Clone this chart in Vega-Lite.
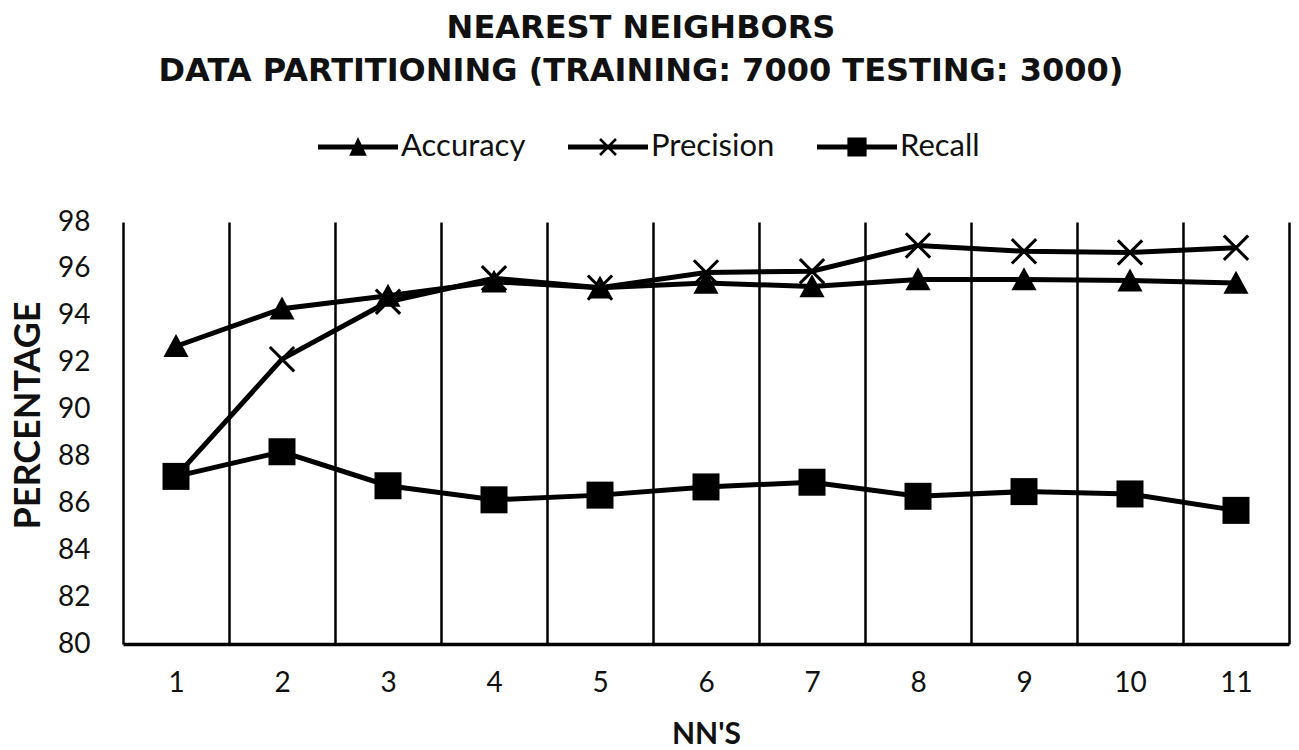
{
  "$schema": "https://vega.github.io/schema/vega-lite/v6.json",
  "autosize": "none",
  "width": 1166,
  "height": 422,
  "padding": {"left": 123, "top": 222, "right": 10, "bottom": 106},
  "background": "white",
  "title": {
    "text": ["NEAREST NEIGHBORS", "DATA PARTITIONING (TRAINING: 7000  TESTING: 3000)"],
    "font": "DejaVu Sans",
    "fontSize": 32,
    "fontWeight": "bold",
    "lineHeight": 43,
    "color": "#111111",
    "anchor": "middle",
    "dx": -65,
    "offset": 19
  },
  "config": {
    "view": {"stroke": null},
    "font": "Lato"
  },
  "data": {
    "values": [
      {"nn": "1", "metric": "Accuracy", "value": 92.7},
      {"nn": "2", "metric": "Accuracy", "value": 94.3},
      {"nn": "3", "metric": "Accuracy", "value": 94.85},
      {"nn": "4", "metric": "Accuracy", "value": 95.45},
      {"nn": "5", "metric": "Accuracy", "value": 95.2},
      {"nn": "6", "metric": "Accuracy", "value": 95.4},
      {"nn": "7", "metric": "Accuracy", "value": 95.25},
      {"nn": "8", "metric": "Accuracy", "value": 95.55},
      {"nn": "9", "metric": "Accuracy", "value": 95.55},
      {"nn": "10", "metric": "Accuracy", "value": 95.5},
      {"nn": "11", "metric": "Accuracy", "value": 95.4},
      {"nn": "1", "metric": "Precision", "value": 87.15},
      {"nn": "2", "metric": "Precision", "value": 92.15},
      {"nn": "3", "metric": "Precision", "value": 94.6},
      {"nn": "4", "metric": "Precision", "value": 95.6},
      {"nn": "5", "metric": "Precision", "value": 95.2},
      {"nn": "6", "metric": "Precision", "value": 95.85},
      {"nn": "7", "metric": "Precision", "value": 95.9},
      {"nn": "8", "metric": "Precision", "value": 97.0},
      {"nn": "9", "metric": "Precision", "value": 96.75},
      {"nn": "10", "metric": "Precision", "value": 96.7},
      {"nn": "11", "metric": "Precision", "value": 96.9},
      {"nn": "1", "metric": "Recall", "value": 87.15},
      {"nn": "2", "metric": "Recall", "value": 88.2},
      {"nn": "3", "metric": "Recall", "value": 86.75},
      {"nn": "4", "metric": "Recall", "value": 86.15},
      {"nn": "5", "metric": "Recall", "value": 86.35},
      {"nn": "6", "metric": "Recall", "value": 86.7},
      {"nn": "7", "metric": "Recall", "value": 86.9},
      {"nn": "8", "metric": "Recall", "value": 86.3},
      {"nn": "9", "metric": "Recall", "value": 86.5},
      {"nn": "10", "metric": "Recall", "value": 86.4},
      {"nn": "11", "metric": "Recall", "value": 85.7}
    ]
  },
  "encoding": {
    "x": {
      "field": "nn",
      "type": "ordinal",
      "sort": ["1","2","3","4","5","6","7","8","9","10","11"],
      "scale": {"paddingInner": 0, "paddingOuter": 0},
      "axis": {
        "title": "NN'S",
        "titleFont": "Lato",
        "titleFontSize": 30,
        "titleFontWeight": "bold",
        "titleColor": "#111111",
        "titlePadding": 22,
        "labelAngle": 0,
        "labelFont": "Lato",
        "labelFontSize": 28,
        "labelColor": "#111111",
        "labelPadding": 25,
        "ticks": false,
        "tickBand": "extent",
        "grid": true,
        "gridColor": "#000000",
        "gridWidth": 2.5,
        "gridOpacity": 1,
        "domain": true,
        "domainColor": "#000000",
        "domainWidth": 3.5
      }
    },
    "y": {
      "field": "value",
      "type": "quantitative",
      "scale": {"domain": [80, 98], "nice": false, "zero": false},
      "axis": {
        "title": "PERCENTAGE",
        "titleFont": "Lato",
        "titleFontSize": 36,
        "titleFontWeight": "bold",
        "titleColor": "#111111",
        "titlePadding": 10,
        "titleY": 193,
        "values": [80, 82, 84, 86, 88, 90, 92, 94, 96, 98],
        "labelFont": "Lato",
        "labelFontSize": 28,
        "labelColor": "#111111",
        "labelPadding": 33,
        "ticks": false,
        "grid": false,
        "domain": false
      }
    }
  },
  "layer": [
    {
      "mark": {"type": "line", "color": "#000000", "strokeWidth": 5},
      "encoding": {"detail": {"field": "metric"}}
    },
    {
      "mark": {"type": "point", "filled": true, "fill": "#000000", "opacity": 1},
      "encoding": {
        "shape": {
          "field": "metric",
          "type": "nominal",
          "scale": {
            "domain": ["Accuracy", "Precision", "Recall"],
            "range": [
              "M-0.93,0.8L0,-0.9L0.93,0.8Z",
              "M-0.98,-0.82L-0.82,-0.98L0.98,0.82L0.82,0.98Z M-0.82,0.98L-0.98,0.82L0.82,-0.98L0.98,-0.82Z",
              "M-1,-1H1V1H-1Z"
            ]
          },
          "legend": null
        },
        "size": {"value": 729}
      }
    },
    {
      "mark": {"type": "point", "filled": true, "fill": "#000000", "opacity": 0},
      "encoding": {
        "shape": {
          "field": "metric",
          "type": "nominal",
          "scale": {
            "domain": ["Accuracy", "Precision", "Recall"],
            "range": [
              "M-1,-0.065H1V0.065H-1Z M-0.22,0.22L0,-0.25L0.22,0.22Z",
              "M-1,-0.065H1V0.065H-1Z M-0.222,-0.178L-0.178,-0.222L0.222,0.178L0.178,0.222Z M-0.178,0.222L-0.222,0.178L0.178,-0.222L0.222,-0.178Z",
              "M-1,-0.065H1V0.065H-1Z M-0.24,-0.24H0.24V0.24H-0.24Z"
            ]
          },
          "legend": {
            "orient": "none",
            "legendX": 195,
            "legendY": -115,
            "direction": "horizontal",
            "title": null,
            "padding": 0,
            "symbolSize": 6400,
            "symbolFillColor": "#000000",
            "symbolStrokeWidth": 0,
            "symbolOpacity": 1,
            "labelFont": "Lato",
            "labelFontSize": 31,
            "labelColor": "#111111",
            "labelOffset": 3,
            "columnPadding": 42
          }
        }
      }
    }
  ],
  "resolve": {"scale": {"shape": "independent"}}
}
